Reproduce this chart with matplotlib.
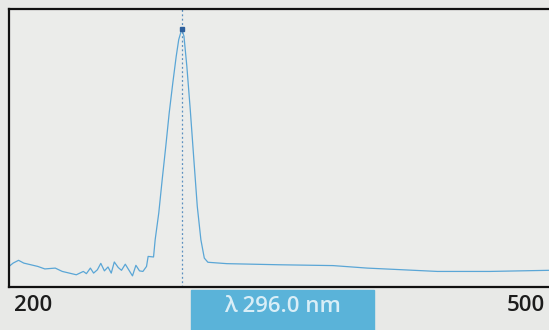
import matplotlib.pyplot as plt
from matplotlib.patches import Rectangle

# spectrum (wavelength nm, relative absorbance)
wavelength = [200, 202.3, 205.3, 208.2, 212.1, 216.0, 219.9, 225.7, 229.6, 233.5,
              237.4, 241.3, 243.0, 245.2, 247.0, 249.1, 251.0, 253.0, 255.0, 256.8,
              258.5, 260.7, 262.5, 264.6, 266.5, 268.6, 270.5, 272.5, 274.4, 276.4,
              277.3, 280.3, 281.2, 283.2, 285.1, 287.1, 289.0, 291.0, 292.9, 294.3,
              296.0, 297.2, 298.8, 300.7, 302.7, 304.6, 306.6, 308.5, 310.5, 321,
              350, 380, 399, 418.6, 438, 467, 500]
absorbance = [0.074, 0.086, 0.096, 0.086, 0.080, 0.074, 0.065, 0.068, 0.056, 0.050,
              0.044, 0.056, 0.048, 0.068, 0.050, 0.062, 0.085, 0.058, 0.072, 0.050,
              0.090, 0.070, 0.060, 0.082, 0.062, 0.040, 0.078, 0.058, 0.056, 0.074,
              0.110, 0.108, 0.170, 0.266, 0.386, 0.506, 0.626, 0.734, 0.830, 0.890,
              0.928, 0.902, 0.794, 0.638, 0.458, 0.290, 0.170, 0.104, 0.089, 0.084,
              0.080, 0.077, 0.068, 0.062, 0.056, 0.056, 0.060]
x_range = [200, 500]
peak_nm = 296.0
peak_value = 0.928

bg = '#e8e9e7'
fig = plt.figure(figsize=(5.49, 3.30), dpi=100, facecolor=bg)
ax = fig.add_axes([9 / 549, 43 / 330, 540 / 549, 278 / 330], facecolor='#ebecea')

ax.plot(wavelength, absorbance, color='#5aa6d6', lw=0.9)
ax.axvline(peak_nm, color='#5b8fbf', lw=0.9, ls=(0, (1.5, 2)))
ax.plot([peak_nm], [peak_value], 's', ms=3.5, color='#2d5f9c')

ax.set_xlim(x_range)
ax.set_ylim(0, 1)
ax.set_xticks([])
ax.set_yticks([])
for side in ['left', 'top', 'bottom']:
    ax.spines[side].set_linewidth(1.6)
    ax.spines[side].set_color('#111111')
ax.spines['right'].set_visible(False)

# readout strip below the plot
font = dict(family=['Open Sans', 'DejaVu Sans'], fontsize=16, fontweight='semibold')
fig.text(14 / 549, 0.074, str(x_range[0]), color='#1c1c1c', ha='left', va='center', **font)
fig.text(545 / 549, 0.074, str(x_range[1]), color='#1c1c1c', ha='right', va='center', **font)
fig.patches.append(Rectangle((191 / 549, 0), 183 / 549, 40 / 330,
                             transform=fig.transFigure, color='#5ab3d9', zorder=0))
fig.text(282 / 549, 0.072, f'λ {peak_nm:.1f} nm', color='#d9eef7',
         ha='center', va='center', **font)

fig.savefig('out.png', dpi=100, facecolor=bg)
